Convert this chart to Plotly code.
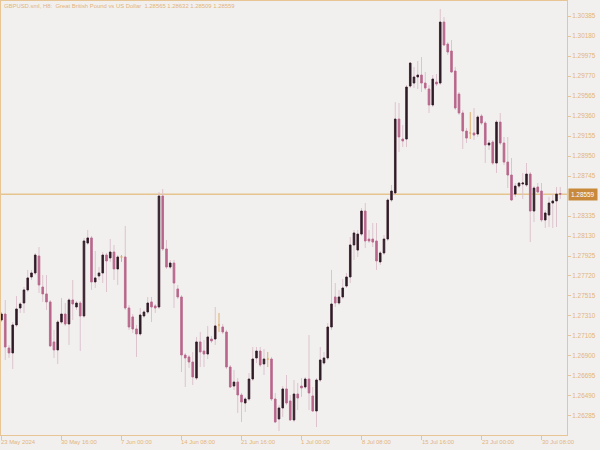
import plotly.graph_objects as go

# ---------------- data (GBPUSD H8 candles) ----------------
open_ = [
    1.27269, 1.27330, 1.26982, 1.26931, 1.27218, 1.27392, 1.27443, 1.27577, 1.27710, 1.27751,
    1.27925, 1.27607, 1.27536, 1.27454, 1.27044, 1.26962, 1.27248, 1.27330, 1.27228, 1.27474,
    1.27402, 1.27443, 1.27310, 1.28058, 1.28110, 1.27659, 1.27720, 1.27751, 1.27935, 1.27905,
    1.27966, 1.27792, 1.27915, 1.27915, 1.27392, 1.27300, 1.27177, 1.27126, 1.27310, 1.27351,
    1.27454, 1.27413, 1.27402, 1.28540, 1.27997, 1.27812, 1.27853, 1.27587, 1.27505, 1.26910,
    1.26890, 1.26838, 1.26674, 1.27044, 1.26951, 1.26920, 1.27074, 1.27074, 1.27218, 1.27197,
    1.27146, 1.26787, 1.26592, 1.26633, 1.26500, 1.26418, 1.26459, 1.26664, 1.26880, 1.26951,
    1.26818, 1.26869, 1.26869, 1.26459, 1.26254, 1.26367, 1.26562, 1.26439, 1.26244, 1.26510,
    1.26592, 1.26582, 1.26664, 1.26490, 1.26336, 1.26654, 1.26828, 1.26880, 1.27197, 1.27505,
    1.27443, 1.27505, 1.27617, 1.27710, 1.28038, 1.27986, 1.28150, 1.28386, 1.28099, 1.28099,
    1.28079, 1.27864, 1.27956, 1.28099, 1.28499, 1.28571, 1.29329, 1.29124, 1.29124, 1.29667,
    1.29698, 1.29760, 1.29780, 1.29698, 1.29637, 1.29473, 1.29708, 1.29698, 1.30323, 1.30098,
    1.30026, 1.29821, 1.29585, 1.29391, 1.29206, 1.29186, 1.29186, 1.29175, 1.29360, 1.29288,
    1.29063, 1.29093, 1.28878, 1.29298, 1.29083, 1.28888, 1.28755, 1.28560, 1.28642, 1.28663,
    1.28653, 1.28765, 1.28386, 1.28632, 1.28591, 1.28294, 1.28345, 1.28468, 1.28489, 1.28565,
]
high = [
    1.27351, 1.27474, 1.27013, 1.27248, 1.27515, 1.27454, 1.27607, 1.27782, 1.27782, 1.27956,
    1.28017, 1.27730, 1.27730, 1.27474, 1.27167, 1.27269, 1.27495, 1.27443, 1.27495, 1.27679,
    1.27464, 1.27464, 1.28110, 1.28192, 1.28130, 1.27976, 1.27812, 1.27966, 1.27956, 1.28099,
    1.28038, 1.27935, 1.27935, 1.28233, 1.27423, 1.27330, 1.27218, 1.27392, 1.27372, 1.27505,
    1.27505, 1.27433, 1.28581, 1.28612, 1.28089, 1.27884, 1.27884, 1.27628, 1.27525, 1.26931,
    1.26910, 1.26941, 1.27095, 1.27146, 1.27064, 1.27208, 1.27105, 1.27402, 1.27341, 1.27228,
    1.27167, 1.26808, 1.26756, 1.26674, 1.26521, 1.26480, 1.26726, 1.26992, 1.26992, 1.26992,
    1.26972, 1.26941, 1.26890, 1.26521, 1.26398, 1.26592, 1.26705, 1.26500, 1.26654, 1.26623,
    1.26674, 1.26685, 1.27115, 1.26582, 1.26674, 1.26992, 1.26941, 1.27238, 1.27782, 1.27648,
    1.27577, 1.27689, 1.27751, 1.28120, 1.28192, 1.28192, 1.28417, 1.28468, 1.28192, 1.28263,
    1.28263, 1.27976, 1.28140, 1.28519, 1.28653, 1.29503, 1.29493, 1.29268, 1.29678, 1.29913,
    1.29862, 1.29924, 1.29965, 1.29811, 1.29678, 1.29780, 1.29790, 1.30457, 1.30375, 1.30118,
    1.30139, 1.29862, 1.29606, 1.29421, 1.29237, 1.29401, 1.29442, 1.29370, 1.29380, 1.29309,
    1.29114, 1.29114, 1.29319, 1.29391, 1.29145, 1.29145, 1.28929, 1.28673, 1.28683, 1.28776,
    1.28878, 1.28786, 1.28642, 1.28673, 1.28673, 1.28396, 1.28530, 1.28560, 1.28632, 1.28632,
]
low = [
    1.27248, 1.26859, 1.26880, 1.26767, 1.27197, 1.27341, 1.27341, 1.27556, 1.27679, 1.27730,
    1.27546, 1.27454, 1.27372, 1.26992, 1.26880, 1.26818, 1.27228, 1.27208, 1.27013, 1.27269,
    1.27372, 1.26951, 1.27290, 1.28038, 1.27577, 1.27597, 1.27679, 1.27648, 1.27556, 1.27864,
    1.27679, 1.27628, 1.27864, 1.27372, 1.27167, 1.27136, 1.26890, 1.27105, 1.27290, 1.27330,
    1.27248, 1.27341, 1.27382, 1.27976, 1.27792, 1.27792, 1.27392, 1.27484, 1.26736, 1.26582,
    1.26777, 1.26603, 1.26654, 1.26787, 1.26787, 1.26869, 1.27033, 1.27013, 1.27146, 1.27126,
    1.26767, 1.26572, 1.26551, 1.26316, 1.26223, 1.26326, 1.26439, 1.26644, 1.26828, 1.26787,
    1.26705, 1.26787, 1.26439, 1.26213, 1.26131, 1.26275, 1.26398, 1.26234, 1.26223, 1.26346,
    1.26480, 1.26562, 1.26346, 1.26326, 1.26172, 1.26633, 1.26808, 1.26859, 1.27167, 1.27402,
    1.27423, 1.27484, 1.27597, 1.27648, 1.27884, 1.27915, 1.28130, 1.28007, 1.28058, 1.28017,
    1.27782, 1.27833, 1.27935, 1.28079, 1.28478, 1.28550, 1.28991, 1.29042, 1.29042, 1.29647,
    1.29647, 1.29637, 1.29606, 1.29626, 1.29391, 1.29452, 1.29667, 1.29678, 1.30077, 1.29985,
    1.29801, 1.29421, 1.29370, 1.29022, 1.29083, 1.29124, 1.29114, 1.29145, 1.29268, 1.28878,
    1.29011, 1.28858, 1.28776, 1.29063, 1.28858, 1.28622, 1.28489, 1.28530, 1.28622, 1.28509,
    1.28632, 1.28068, 1.28273, 1.28571, 1.28273, 1.28212, 1.28222, 1.28212, 1.28222, 1.28509,
]
close = [
    1.27330, 1.26992, 1.26931, 1.27218, 1.27382, 1.27433, 1.27577, 1.27700, 1.27751, 1.27935,
    1.27628, 1.27536, 1.27454, 1.27003, 1.26962, 1.27248, 1.27330, 1.27228, 1.27474, 1.27433,
    1.27443, 1.27310, 1.28079, 1.28110, 1.27659, 1.27700, 1.27751, 1.27935, 1.27874, 1.27966,
    1.27792, 1.27915, 1.27915, 1.27392, 1.27197, 1.27177, 1.27126, 1.27320, 1.27351, 1.27443,
    1.27402, 1.27392, 1.28540, 1.27997, 1.27812, 1.27853, 1.27648, 1.27505, 1.26910, 1.26880,
    1.26838, 1.26685, 1.27044, 1.26941, 1.26920, 1.27095, 1.27054, 1.27208, 1.27218, 1.27146,
    1.26787, 1.26582, 1.26633, 1.26500, 1.26428, 1.26459, 1.26664, 1.26869, 1.26951, 1.26808,
    1.26869, 1.26869, 1.26459, 1.26223, 1.26367, 1.26562, 1.26418, 1.26244, 1.26510, 1.26469,
    1.26572, 1.26664, 1.26521, 1.26336, 1.26654, 1.26859, 1.26880, 1.27197, 1.27433, 1.27443,
    1.27505, 1.27597, 1.27710, 1.28038, 1.28161, 1.28150, 1.28386, 1.28079, 1.28079, 1.28068,
    1.27874, 1.27956, 1.28099, 1.28499, 1.28591, 1.29329, 1.29145, 1.29104, 1.29657, 1.29903,
    1.29760, 1.29780, 1.29698, 1.29647, 1.29473, 1.29739, 1.29688, 1.30323, 1.30088, 1.30016,
    1.29811, 1.29442, 1.29391, 1.29206, 1.29134, 1.29186, 1.29165, 1.29350, 1.29288, 1.29063,
    1.29083, 1.28878, 1.29298, 1.29083, 1.28888, 1.28755, 1.28499, 1.28642, 1.28673, 1.28673,
    1.28765, 1.28386, 1.28622, 1.28581, 1.28294, 1.28366, 1.28468, 1.28489, 1.28560, 1.28559,
]

x_tick_index = [0, 16, 32, 48, 64, 80, 96, 112, 128, 144]
x_tick_labels = ["23 May 2024", "30 May 16:00", "7 Jun 00:00", "14 Jun 08:00", "21 Jun 16:00",
                 "1 Jul 00:00", "8 Jul 08:00", "15 Jul 16:00", "23 Jul 00:00", "30 Jul 08:00"]
y_tick_values = [1.26285, 1.26490, 1.26695, 1.26900, 1.27105, 1.27310, 1.27515, 1.27720,
                 1.27925, 1.28130, 1.28335, 1.28745, 1.28950, 1.29155, 1.29360, 1.29565,
                 1.29770, 1.29975, 1.30180, 1.30385]
y_tick_labels = ["1.26285", "1.26490", "1.26695", "1.26900", "1.27105", "1.27310", "1.27515",
                 "1.27720", "1.27925", "1.28130", "1.28335", "1.28745", "1.28950", "1.29155",
                 "1.29360", "1.29565", "1.29770", "1.29975", "1.30180", "1.30385"]
title_text = "GBPUSD.sml, H8:  Great British Pound vs US Dollar  1.28565 1.28632 1.28509 1.28559"
last_price = 1.28559
last_price_label = "1.28559"

# ---------------- style ----------------
BG = "#f2f0ee"
AXIS = "#e8c594"
TEXT = "#e2b47c"
WICK = "#dcc3cd"
BULL = "#2e1c26"
BEAR = "#b9668c"
DOJI = "#e0ad6c"
PRICE_BOX = "#c8893a"
FONT = "Liberation Sans Narrow, Liberation Sans, Arial, sans-serif"
SMALL = 5.9
YSIZE = 6.4

n = len(close)
idx = list(range(n))
doji = [i for i in idx if open_[i] == close[i]]
normal = [i for i in idx if open_[i] != close[i]]


def pick(arr, ids):
    return [arr[i] for i in ids]


fig = go.Figure()

# wicks (pale), full high-low range
fig.add_trace(go.Candlestick(
    x=normal, open=pick(open_, normal), high=pick(high, normal),
    low=pick(low, normal), close=pick(close, normal),
    increasing=dict(line=dict(color=WICK, width=1), fillcolor=WICK),
    decreasing=dict(line=dict(color=WICK, width=1), fillcolor=WICK),
    hoverinfo="skip", showlegend=False,
))

# bodies on top
body_hi = [max(open_[i], close[i]) for i in normal]
body_lo = [min(open_[i], close[i]) for i in normal]
fig.add_trace(go.Candlestick(
    x=normal, open=pick(open_, normal), high=body_hi, low=body_lo, close=pick(close, normal),
    increasing=dict(line=dict(color=BULL, width=0.8), fillcolor=BULL),
    decreasing=dict(line=dict(color=BEAR, width=0.8), fillcolor=BEAR),
    hoverinfo="skip", showlegend=False,
))

# doji bars
fig.add_trace(go.Candlestick(
    x=doji, open=pick(open_, doji), high=pick(high, doji),
    low=pick(low, doji), close=pick(close, doji),
    increasing=dict(line=dict(color=DOJI, width=1), fillcolor=DOJI),
    decreasing=dict(line=dict(color=DOJI, width=1), fillcolor=DOJI),
    hoverinfo="skip", showlegend=False,
))

# current price line
fig.add_shape(type="line", xref="paper", x0=0, x1=1, yref="y", y0=last_price, y1=last_price,
              line=dict(color="#e6c48e", width=1.5), layer="below")

annotations = []
for xi, lab in zip(x_tick_index, x_tick_labels):
    annotations.append(dict(x=xi, xref="x", y=0, yref="paper", text=lab, showarrow=False,
                            xanchor="left", yanchor="top", yshift=-2, xshift=-2,
                            font=dict(family=FONT, size=SMALL, color=TEXT)))
annotations.append(dict(x=0, xref="paper", y=1, yref="paper", text=title_text, showarrow=False,
                        xanchor="left", yanchor="top", xshift=1, yshift=0,
                        font=dict(family=FONT, size=SMALL, color=TEXT)))
annotations.append(dict(x=1, xref="paper", y=last_price, yref="y", text=last_price_label,
                        showarrow=False, xanchor="left", yanchor="middle", xshift=1,
                        bgcolor=PRICE_BOX, borderpad=2,
                        font=dict(family=FONT, size=YSIZE, color="#ffffff")))

fig.update_layout(
    width=600, height=450,
    margin=dict(l=1, r=33, t=1, b=15, autoexpand=False),
    paper_bgcolor=BG, plot_bgcolor=BG,
    showlegend=False,
    boxgap=0.4,
    annotations=annotations,
    xaxis=dict(range=[-0.13, 150.8], showgrid=False, zeroline=False,
               showline=True, linecolor=AXIS, linewidth=1, mirror=True,
               ticks="outside", ticklen=4, tickcolor=AXIS, tickwidth=1,
               tickvals=x_tick_index, showticklabels=False, automargin=False,
               rangeslider=dict(visible=False), fixedrange=True),
    yaxis=dict(side="right", range=[1.26090, 1.30539], showgrid=False, zeroline=False,
               showline=True, linecolor=AXIS, linewidth=1, mirror=True,
               ticks="outside", ticklen=3, tickcolor=AXIS, tickwidth=1,
               tickvals=y_tick_values, ticktext=y_tick_labels, automargin=False,
               tickfont=dict(family=FONT, size=YSIZE, color=TEXT), fixedrange=True),
)

fig.write_html("out.html", config={"displayModeBar": False},
               post_script="document.body.style.margin='0px';document.body.style.background='" + BG + "';")
